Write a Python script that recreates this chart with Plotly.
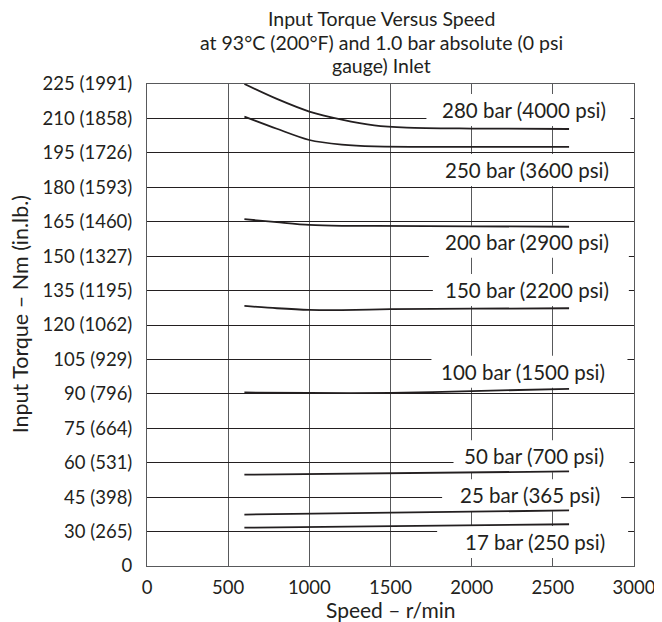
import plotly.graph_objects as go

# ---------------- data ----------------
speed_280 = [600, 800, 1000, 1200, 1400, 1600, 2000, 2600]
torque_280 = [225, 218.5, 213, 209.5, 207, 206, 205.6, 205.4]

speed_250 = [600, 800, 1000, 1200, 1400, 2000, 2600]
torque_250 = [210.8, 205.5, 200.6, 198.6, 197.8, 197.6, 197.6]

speed_200 = [600, 800, 1000, 1200, 1400, 2000, 2600]
torque_200 = [166.1, 164.8, 163.6, 163.2, 163.2, 163.0, 162.8]

speed_150 = [600, 800, 1000, 1200, 1500, 2000, 2600]
torque_150 = [128.3, 127.3, 126.6, 126.5, 126.9, 127.1, 127.3]

speed_100 = [600, 1000, 1500, 2000, 2600]
torque_100 = [90.6, 90.4, 90.4, 91.2, 92.2]

speed_50 = [600, 2600]
torque_50 = [54.8, 56.2]

speed_25 = [600, 2600]
torque_25 = [37.4, 39.2]

speed_17 = [600, 2600]
torque_17 = [31.7, 33.2]

series_labels = ["280 bar (4000 psi)", "250 bar (3600 psi)", "200 bar (2900 psi)",
                 "150 bar (2200 psi)", "100 bar (1500 psi)", "50 bar (700 psi)",
                 "25 bar (365 psi)", "17 bar (250 psi)"]
label_speed = [2325, 2340, 2340, 2340, 2319, 2381, 2360, 2391]
label_torque = [213.7, 187.5, 156.3, 135.3, 99.6, 62.8, 45.8, 25.5]

x_ticks = [0, 500, 1000, 1500, 2000, 2500, 3000]
y_tickvals = [15, 30, 45, 60, 75, 90, 105, 120, 135, 150, 165, 180, 195, 210, 225]
y_ticktext = ["0", "30 (265)", "45 (398)", "60 (531)", "75 (664)", "90 (796)",
              "105 (929)", "120 (1062)", "135 (1195)", "150 (1327)", "165 (1460)",
              "180 (1593)", "195 (1726)", "210 (1858)", "225 (1991)"]

title_lines = ["Input Torque Versus Speed",
               "at 93°C (200°F) and 1.0 bar absolute (0 psi",
               "gauge) Inlet"]
x_title = "Speed – r/min"
y_title = "Input Torque – Nm (in.lb.)"

# ---------------- styling (pixels) ----------------
FONT = "Lato"
INK = "#231f20"
# white label boxes: (left, right) extents around the label centre, px
box_extent = [(-98, 106), (-98, 102), (-98, 102), (-94, 102), (-92, 104),
              (-80, 96), (-88, 91), (-98, 93)]
BOX_HALF_H = 16

fig = go.Figure()
curves = [
    (speed_280, torque_280, "spline"),
    (speed_250, torque_250, "spline"),
    (speed_200, torque_200, "spline"),
    (speed_150, torque_150, "spline"),
    (speed_100, torque_100, "spline"),
    (speed_50, torque_50, "linear"),
    (speed_25, torque_25, "linear"),
    (speed_17, torque_17, "linear"),
]
for (xs, ys, shape), name in zip(curves, series_labels):
    fig.add_trace(go.Scatter(x=xs, y=ys, mode="lines", name=name,
                             line=dict(color=INK, width=1.8, shape=shape, smoothing=0.8),
                             showlegend=False, hoverinfo="skip"))

for txt, lx, ly, (bl, br) in zip(series_labels, label_speed, label_torque, box_extent):
    fig.add_shape(type="rect", xref="x", yref="y", xsizemode="pixel", ysizemode="pixel",
                  xanchor=lx, yanchor=ly, x0=bl, x1=br, y0=-BOX_HALF_H, y1=BOX_HALF_H,
                  fillcolor="white", line=dict(width=0), layer="between")
    fig.add_annotation(x=lx, y=ly, xref="x", yref="y", text=txt, showarrow=False,
                       font=dict(family=FONT, size=20.5, color=INK),
                       xanchor="center", yanchor="middle")

# title (three lines, tight line spacing as in the reference)
for i, line in enumerate(title_lines):
    fig.add_annotation(x=0.482, y=1, xref="paper", yref="paper", text=line,
                       showarrow=False, xanchor="center", yanchor="middle",
                       yshift=65.5 - 23.5 * i,
                       font=dict(family=FONT, size=19.5, color=INK))

fig.add_annotation(x=0, y=0.5, xref="paper", yref="paper", text=y_title,
                   showarrow=False, textangle=-90, xanchor="center", yanchor="middle",
                   xshift=-126.7, yshift=11,
                   font=dict(family=FONT, size=21.5, color=INK))
fig.add_annotation(x=0.5, y=0, xref="paper", yref="paper", text=x_title,
                   showarrow=False, xanchor="center", yanchor="middle",
                   yshift=-43,
                   font=dict(family=FONT, size=21, color=INK))

fig.update_layout(
    width=654, height=614,
    margin=dict(l=139, r=28, t=76, b=56, pad=0, autoexpand=False),
    paper_bgcolor="white", plot_bgcolor="white",
    font=dict(family=FONT, size=18.5, color=INK),
)
fig.update_xaxes(range=[0, 3000], tickvals=x_ticks, ticks="",
                 showgrid=True, gridcolor="#58595b", gridwidth=1,
                 showline=True, linecolor="#58595b", linewidth=1, mirror=True,
                 zeroline=False, automargin=False, ticklabelstandoff=5,
                 tickfont=dict(family=FONT, size=18.5, color=INK))
fig.update_yaxes(range=[15, 225], tickvals=y_tickvals, ticktext=y_ticktext, ticks="",
                 showgrid=True, gridcolor="#231f20", gridwidth=1,
                 showline=True, linecolor="#58595b", linewidth=1, mirror=True,
                 zeroline=False, automargin=False, ticklabelstandoff=10,
                 tickfont=dict(family=FONT, size=18.5, color=INK))

fig.write_html("out.html")
